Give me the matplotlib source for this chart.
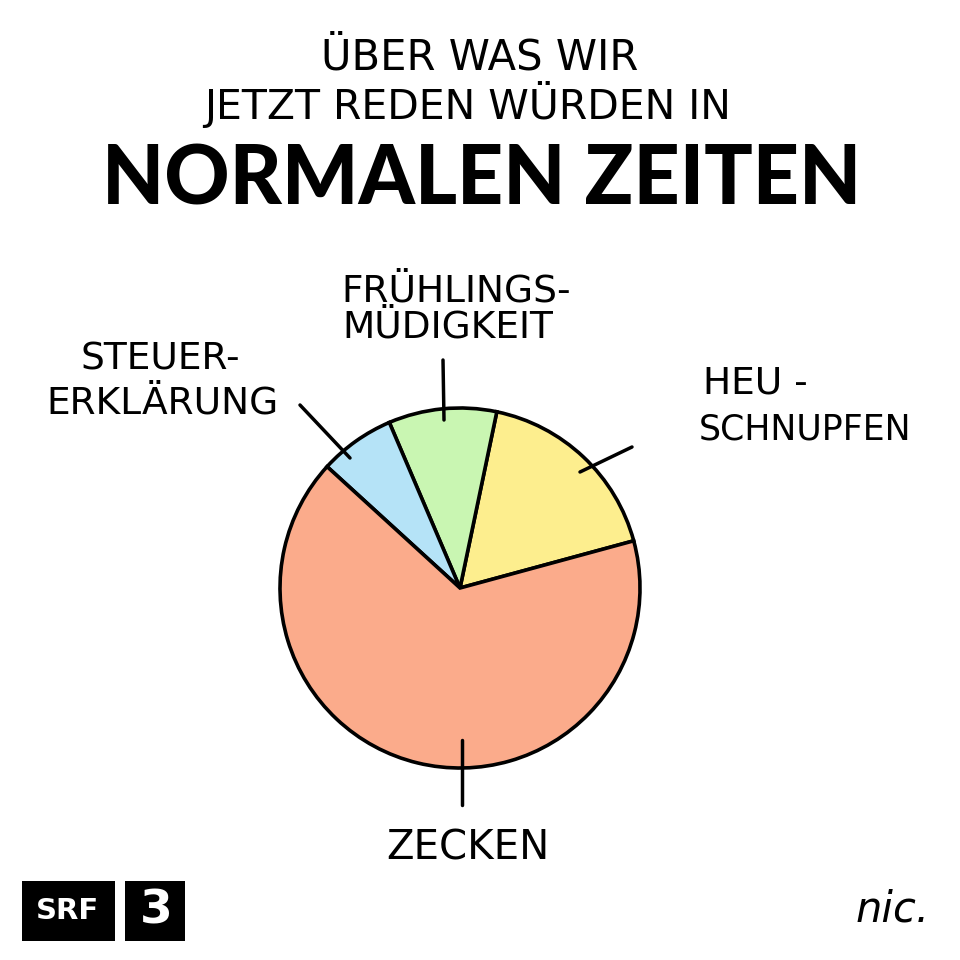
import matplotlib
matplotlib.use("Agg")
import matplotlib.pyplot as plt
from matplotlib.patches import Rectangle

# data (share of the pie, in percent)
topics = ["HEU-\nSCHNUPFEN", "FRÜHLINGS-\nMÜDIGKEIT", "STEUER-\nERKLÄRUNG", "ZECKEN"]
shares = [17.5, 9.7, 6.8, 66.0]
colors = ["#fdee8e", "#c9f6b2", "#b5e3f7", "#fbab8b"]

title_lines = ["ÜBER WAS WIR", "JETZT REDEN WÜRDEN IN"]
title_big = "NORMALEN ZEITEN"

W = H = 960
fig = plt.figure(figsize=(9.6, 9.6), dpi=100)
ax = fig.add_axes([0, 0, 1, 1])

def y(py):
    # picture rows count from the top
    return H - py

cx, cy, r = 460, y(588), 180
ax.pie(shares, colors=colors, startangle=15.2, counterclock=True,
       center=(cx, cy), radius=r, frame=True,
       wedgeprops=dict(edgecolor="black", linewidth=2.6))
ax.set_xlim(0, W)
ax.set_ylim(0, H)
ax.set_aspect("equal")
ax.axis("off")

# leader lines
leaders = [((632, 447), (580, 472)),
           ((443, 360), (444, 420)),
           ((300, 405), (350, 458)),
           ((462, 740), (462, 805))]
for (x0, y0), (x1, y1) in leaders:
    ax.plot([x0, x1], [y(y0), y(y1)], color="black", lw=2.5, solid_capstyle="round")

lab = dict(fontsize=27, color="black", ha="center", va="center", family="DejaVu Sans")
ax.text(755, y(384), "HEU -", **lab)
ax.text(805, y(429), "SCHNUPFEN", **dict(lab, fontsize=25))
ax.text(456, y(291), "FRÜHLINGS-", **lab)
ax.text(448, y(327), "MÜDIGKEIT", **lab)
ax.text(160, y(360), "STEUER-", **lab)
ax.text(162, y(404), "ERKLÄRUNG", **lab)
ax.text(468, y(848), topics[3], **dict(lab, fontsize=29))

# titles
ax.text(480, y(57), title_lines[0], fontsize=30, ha="center", va="center", family="DejaVu Sans")
ax.text(468, y(105), title_lines[1], fontsize=29.5, ha="center", va="center", family="DejaVu Sans")
ax.text(482, y(181), title_big, fontsize=58, ha="center", va="center",
        family=["Lato", "DejaVu Sans"], fontweight="black")

# SRF 3 logo
ax.add_patch(Rectangle((22, y(941)), 93, 60, facecolor="black", edgecolor="none"))
ax.add_patch(Rectangle((125, y(941)), 60, 60, facecolor="black", edgecolor="none"))
ax.text(68, y(911), "SRF", color="white", fontsize=21, fontweight="bold",
        ha="center", va="center", family="DejaVu Sans")
ax.text(156, y(911), "3", color="white", fontsize=34, fontweight="bold",
        ha="center", va="center", family="DejaVu Sans")

# signature
ax.text(893, y(910), "nic.", fontsize=30, ha="center", va="center",
        family="DejaVu Sans", style="italic", fontweight="light")

fig.savefig("out.png", dpi=100)
